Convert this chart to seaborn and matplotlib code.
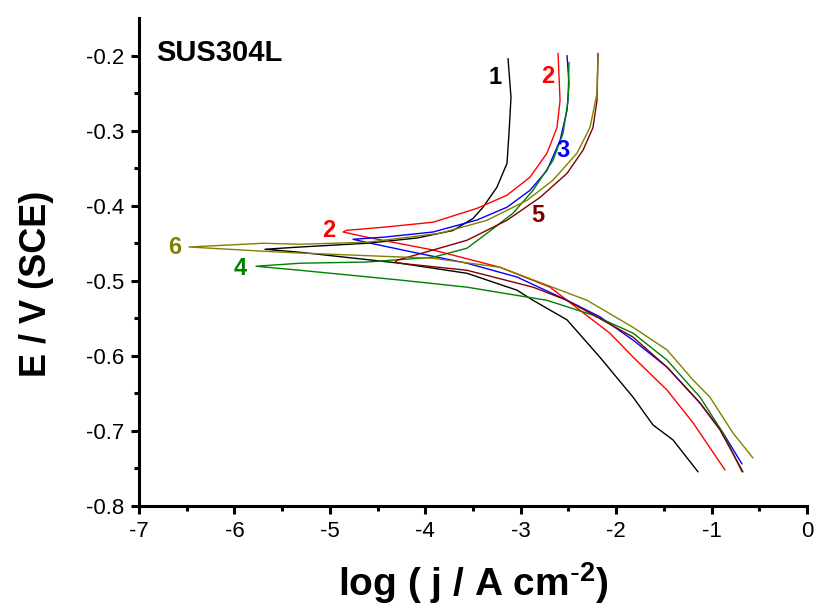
import numpy as np
import pandas as pd
import matplotlib
matplotlib.use("Agg")
import matplotlib.pyplot as plt
import seaborn as sns

# Polarisation curves: cathodic end -> Ecorr tip -> anodic end
c1_logj = [-1.142, -1.404, -1.614, -1.823, -2.169, -2.515, -2.871, -3.039, -3.563, -4.265, -5.313, -5.68,
           -5.313, -4.611, -4.087, -3.71, -3.50, -3.395, -3.25, -3.144, -3.123, -3.102, -3.133]
c1_E = [-0.7545, -0.712, -0.692, -0.655, -0.602, -0.552, -0.526, -0.5125, -0.490, -0.4766, -0.462, -0.458,
        -0.455, -0.450, -0.443, -0.433, -0.417, -0.402, -0.3755, -0.3436, -0.3037, -0.2559, -0.204]

c2_logj = [-0.859, -1.195, -1.467, -1.823, -2.064, -2.515, -2.693, -3.217, -3.919, -4.611, -4.862,
           -4.82, -4.443, -3.919, -3.458, -3.144, -2.903, -2.725, -2.62, -2.588, -2.609]
c2_E = [-0.752, -0.689, -0.6455, -0.6016, -0.570, -0.526, -0.5085, -0.482, -0.459, -0.442, -0.435,
        -0.4327, -0.4287, -0.422, -0.4035, -0.386, -0.362, -0.330, -0.296, -0.260, -0.197]

c3_logj = [-0.681, -0.880, -1.121, -1.467, -1.823, -2.169, -2.515, -3.039, -3.563, -4.087, -4.611, -4.758,
           -4.443, -3.919, -3.458, -3.144, -2.903, -2.725, -2.588, -2.515, -2.494, -2.515]
c3_E = [-0.744, -0.7027, -0.6628, -0.615, -0.579, -0.548, -0.526, -0.495, -0.4766, -0.463, -0.449, -0.4447,
        -0.442, -0.435, -0.419, -0.402, -0.3795, -0.353, -0.313, -0.273, -0.237, -0.200]

c4_logj = [-0.681, -0.880, -1.121, -1.467, -1.823, -2.243, -2.725, -3.563, -4.265, -5.313, -5.774,
           -5.313, -4.611, -3.919, -3.563, -3.353, -3.081, -2.871, -2.662, -2.557, -2.504, -2.494]
c4_E = [-0.7545, -0.7027, -0.655, -0.6056, -0.5697, -0.5457, -0.526, -0.5085, -0.499, -0.486, -0.4806,
        -0.4766, -0.475, -0.4686, -0.4566, -0.4367, -0.410, -0.3795, -0.3396, -0.3037, -0.260, -0.209]

c5_logj = [-0.671, -0.912, -1.121, -1.467, -1.823, -2.515, -2.871, -3.563, -4.265, -4.317,
           -4.296, -3.919, -3.563, -3.144, -2.798, -2.515, -2.347, -2.243, -2.201, -2.190]
c5_E = [-0.7545, -0.6987, -0.6628, -0.615, -0.575, -0.526, -0.5085, -0.486, -0.4766, -0.4753,
        -0.4726, -0.459, -0.446, -0.4194, -0.389, -0.357, -0.326, -0.296, -0.260, -0.197]

c6_logj = [-0.566, -0.776, -1.017, -1.195, -1.467, -1.823, -2.305, -3.217, -3.919, -5.313, -5.70, -6.476,
           -5.70, -5.313, -4.611, -3.846, -3.353, -2.934, -2.662, -2.41, -2.274, -2.201, -2.19]
c6_E = [-0.736, -0.7027, -0.655, -0.632, -0.592, -0.562, -0.526, -0.482, -0.470, -0.463, -0.4606, -0.455,
        -0.450, -0.4513, -0.4487, -0.4367, -0.4194, -0.3928, -0.366, -0.330, -0.2957, -0.2505, -0.2027]

curve_names = ["1", "2", "3", "4", "5", "6"]
curve_colors = ["#000000", "#ff0000", "#0000ff", "#008000", "#800000", "#808000"]

# curve number labels (text, x, y)
label_text = ["1", "2", "3", "5", "2", "6", "4"]
label_x = [-3.270, -2.714, -2.557, -2.819, -5.009, -6.623, -5.942]
label_y = [-0.2293, -0.2279, -0.3263, -0.4128, -0.4327, -0.4553, -0.4832]
label_color = ["#000000", "#ff0000", "#0000ff", "#800000", "#ff0000", "#808000", "#008000"]

xs = [c1_logj, c2_logj, c3_logj, c4_logj, c5_logj, c6_logj]
ys = [c1_E, c2_E, c3_E, c4_E, c5_E, c6_E]
frames = []
for name, x, y in zip(curve_names, xs, ys):
    frames.append(pd.DataFrame({"logj": x, "E": y, "curve": name}))
df = pd.concat(frames, ignore_index=True)

sns.set_style("ticks")
plt.rcParams["font.family"] = ["Liberation Sans", "DejaVu Sans"]
plt.rcParams["axes.unicode_minus"] = False
plt.rcParams["text.color"] = "black"
plt.rcParams["axes.labelcolor"] = "black"
plt.rcParams["xtick.color"] = "black"
plt.rcParams["ytick.color"] = "black"

fig = plt.figure(figsize=(8.14, 6.05), dpi=100)
ax = fig.add_axes([0.1708, 0.1636, 0.8206, 0.8066])

sns.lineplot(data=df, x="logj", y="E", hue="curve", palette=curve_colors,
             sort=False, estimator=None, units="curve", legend=False, linewidth=1.0, ax=ax)

for t, x, y, c in zip(label_text, label_x, label_y, label_color):
    ax.text(x, y, t, color=c, fontsize=17, fontweight="bold", ha="center", va="center")

ax.text(-6.82, -0.2066, "SUS304L", fontsize=21, fontweight="bold", ha="left", va="baseline")

ax.set_xlim(-7, 0)
ax.set_ylim(-0.8, -0.15)
ax.set_xticks(np.arange(-7, 0.5, 1))
ax.set_xticks(np.arange(-7, 0.1, 0.5), minor=True)
ax.set_yticks(np.arange(-0.8, -0.15, 0.1))
ax.set_yticks(np.arange(-0.8, -0.15, 0.05), minor=True)
ax.set_xticklabels([str(v) for v in range(-7, 1)])
ax.set_yticklabels(["%.1f" % v for v in np.arange(-0.8, -0.15, 0.1)])

for s in ["top", "right"]:
    ax.spines[s].set_visible(False)
for s in ["left", "bottom"]:
    ax.spines[s].set_linewidth(2.2)
    ax.spines[s].set_color("black")
ax.tick_params(which="major", direction="out", length=6, width=2.2, labelsize=16, pad=5)
ax.tick_params(which="minor", direction="out", length=3.5, width=2.2)

ax.set_xlabel(r"log ( j / A cm$\mathregular{^{\text{-}2}}$)", fontsize=28, fontweight="bold")
ax.set_ylabel("E / V (SCE)", fontsize=26, fontweight="bold")
ax.xaxis.set_label_coords(0.5, -0.111)
ax.yaxis.set_label_coords(-0.128, 0.456)

fig.savefig("out.png", dpi=100)
